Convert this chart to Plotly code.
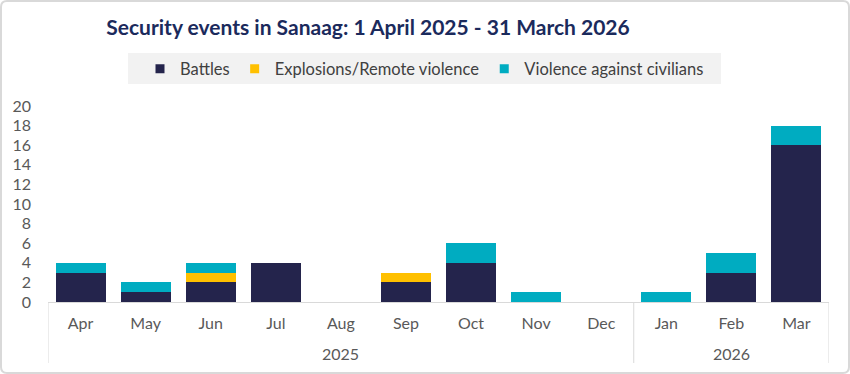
import plotly.graph_objects as go

months = ["Apr", "May", "Jun", "Jul", "Aug", "Sep", "Oct", "Nov", "Dec", "Jan", "Feb", "Mar"]
years = ["2025"] * 9 + ["2026"] * 3
battles = [3, 1, 2, 4, 0, 2, 4, 0, 0, 0, 3, 16]
explosions = [0, 0, 1, 0, 0, 1, 0, 0, 0, 0, 0, 0]
violence = [1, 1, 1, 0, 0, 0, 2, 1, 0, 1, 2, 2]
series_names = ["Battles", "Explosions/Remote violence", "Violence against civilians"]
colors = ["#24244C", "#FFC000", "#00ACC1"]

W, H = 850, 374
L, R, T, B = 48, 21, 106, 72
pw, ph = W - L - R, H - T - B

def px(x):
    return (x - L) / pw

def py(y):
    return (H - B - y) / ph

FONT = "Lato"
GRID = "#D9D9D9"
fig = go.Figure()
for name, vals, col in zip(series_names, [battles, explosions, violence], colors):
    fig.add_trace(go.Bar(x=months, y=vals, name=name, marker_color=col,
                         marker_line_width=0, showlegend=False))
    fig.add_trace(go.Scatter(x=[None], y=[None], mode="markers", name=name,
                             marker=dict(symbol="square", size=9, color=col)))

# year groups (second-level axis): boundaries and centred labels from the data
groups = []
start = 0
for i in range(1, len(years) + 1):
    if i == len(years) or years[i] != years[start]:
        groups.append((years[start], start, i - 1))
        start = i

shapes = []
annotations = []
bounds = sorted({g[1] - 0.5 for g in groups} | {g[2] + 0.5 for g in groups})
for b in bounds:
    shapes.append(dict(type="line", xref="x", yref="paper", x0=b, x1=b, y0=py(302), y1=py(363),
                       line=dict(color=GRID, width=1)))
for label, a, z in groups:
    annotations.append(dict(xref="x", yref="paper", x=(a + z) / 2, y=py(353), text=label,
                            showarrow=False, yanchor="middle", xanchor="center",
                            font=dict(family=FONT, size=16, color="#595959")))

# rounded border
r = 6
x0, x1, y0, y1 = 1, W - 1, 1, H - 1
path = (f"M {px(x0+r)} {py(y0)} L {px(x1-r)} {py(y0)} Q {px(x1)} {py(y0)} {px(x1)} {py(y0+r)} "
        f"L {px(x1)} {py(y1-r)} Q {px(x1)} {py(y1)} {px(x1-r)} {py(y1)} "
        f"L {px(x0+r)} {py(y1)} Q {px(x0)} {py(y1)} {px(x0)} {py(y1-r)} "
        f"L {px(x0)} {py(y0+r)} Q {px(x0)} {py(y0)} {px(x0+r)} {py(y0)} Z")
shapes += [
    dict(type="path", xref="paper", yref="paper", path=path,
         line=dict(color=GRID, width=2), layer="below"),
    dict(type="rect", xref="paper", yref="paper", x0=px(128), x1=px(721), y0=py(84), y1=py(53),
         fillcolor="#F2F2F2", line_width=0, layer="below"),
]

fig.update_layout(
    width=W, height=H,
    margin=dict(l=L, r=R, t=T, b=B, autoexpand=False),
    paper_bgcolor="white", plot_bgcolor="white",
    barmode="stack", bargap=0.232,
    font=dict(family=FONT, color="#595959", size=15),
    title=dict(text="<b>Security events in Sanaag: 1 April 2025 - 31 March 2026</b>",
               font=dict(family=FONT, size=21, color="#1B2A5C"),
               x=368 / W, xref="container", xanchor="center",
               y=1 - 28 / H, yref="container", yanchor="middle"),
    legend=dict(orientation="h", x=px(424.5), xanchor="center", y=py(69), yanchor="middle",
                traceorder="normal",
                bgcolor="rgba(0,0,0,0)", font=dict(family=FONT, size=16.5, color="#404040"),
                itemclick=False),
    shapes=shapes,
    annotations=annotations,
    xaxis=dict(type="category", range=[-0.5, len(months) - 0.5], showline=True,
               linecolor=GRID, linewidth=1, showgrid=False, ticks="", ticklabelstandoff=7,
               tickfont=dict(size=16, color="#595959")),
    yaxis=dict(range=[0, 20], dtick=2, showgrid=False, showline=False, zeroline=False,
               ticks="", ticklabelstandoff=16, tickfont=dict(size=16, color="#595959")),
)

fig.write_html("out.html")
